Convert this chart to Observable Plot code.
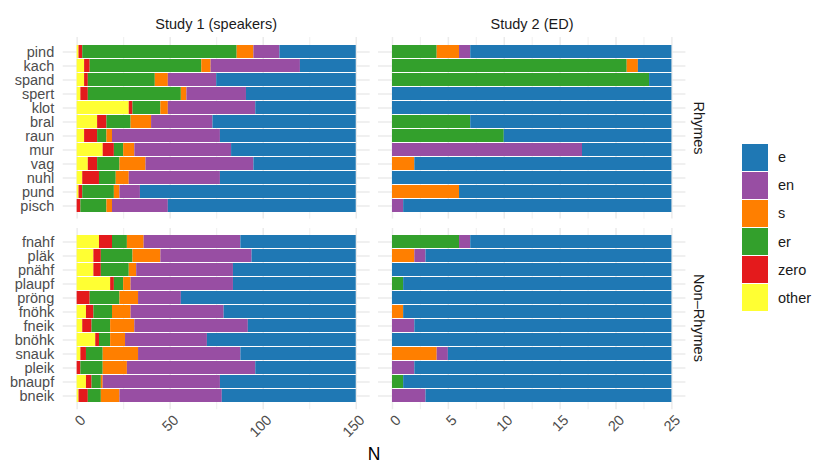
<!DOCTYPE html>
<html><head><meta charset="utf-8">
<script src="https://cdn.jsdelivr.net/npm/d3@7"></script>
<script src="https://cdn.jsdelivr.net/npm/@observablehq/plot@0.6"></script>
<style>
body{margin:0;background:#fff;}
#chart{position:relative;width:830px;height:475px;font-family:"Liberation Sans",Arial,sans-serif;overflow:hidden;background:#fff;}
#chart svg{position:absolute;overflow:visible;}
.lab{position:absolute;white-space:nowrap;line-height:1;}
</style></head><body><div id="chart"></div>
<script>
// categories
const rhymes = ["pind","kach","spand","spert","klot","bral","raun","mur","vag","nuhl","pund","pisch"];
const nonRhymes = ["fnahf","pläk","pnähf","plaupf","pröng","fnöhk","fneik","bnöhk","snauk","pleik","bnaupf","bneik"];
const stackOrder = ["other","zero","er","s","en","e"];
const legendOrder = ["e","en","s","er","zero","other"];
const palette = ["#1f78b4","#984ea3","#ff7f00","#33a02c","#e41a1c","#ffff33"];
const rowLabels = ["Rhymes","Non\u2013Rhymes"];
const colLabels = ["Study 1 (speakers)","Study 2 (ED)"];
// tick labels
const s1Ticks = [0,50,100,150];
const s1Minor = [25,75,125];
const s2Ticks = [0,5,10,15,20,25];
const s2Minor = [2.5,7.5,12.5,17.5,22.5];
// counts per word, in stack order: other, zero, er, s, en, e
const s1Rhymes = [
  [1,2,83,9,14,41],
  [4,3,60,5,48,30],
  [4,2,36,7,26,75],
  [2,4,50,3,32,59],
  [28,2,15,4,47,54],
  [11,5,13,11,33,77],
  [4,7,5,3,58,73],
  [14,6,5,6,52,67],
  [6,5,12,14,58,55],
  [3,9,9,7,49,73],
  [1,2,17,3,11,116],
  [0,2,14,3,30,101]
];
const s1NonRhymes = [
  [12,7,8,9,52,62],
  [9,4,17,15,49,56],
  [9,4,15,4,52,66],
  [18,2,5,4,55,66],
  [0,7,16,10,23,94],
  [5,4,10,10,50,71],
  [3,5,10,13,61,58],
  [10,2,6,8,44,80],
  [2,3,9,19,55,62],
  [0,2,12,13,69,54],
  [5,3,5,1,63,73],
  [1,5,7,10,55,72]
];
const s2Rhymes = [
  [0,0,4,2,1,18],
  [0,0,21,1,0,3],
  [0,0,23,0,0,2],
  [0,0,0,0,0,25],
  [0,0,0,0,0,25],
  [0,0,7,0,0,18],
  [0,0,10,0,0,15],
  [0,0,0,0,17,8],
  [0,0,0,2,0,23],
  [0,0,0,0,0,25],
  [0,0,0,6,0,19],
  [0,0,0,0,1,24]
];
const s2NonRhymes = [
  [0,0,6,0,1,18],
  [0,0,0,2,1,22],
  [0,0,0,0,0,25],
  [0,0,1,0,0,24],
  [0,0,0,0,0,25],
  [0,0,0,1,0,24],
  [0,0,0,0,2,23],
  [0,0,0,0,0,25],
  [0,0,0,4,1,20],
  [0,0,0,0,2,23],
  [0,0,1,0,0,24],
  [0,0,0,0,3,22]
];

const chart = document.getElementById("chart");
const FONT = '"Liberation Sans",Arial,sans-serif';

function panel({words, counts, xmax, ticks, minor, left, top, width, height, mL, mB}) {
  const data = [];
  words.forEach((w, i) => stackOrder.forEach((r, j) => {
    if (counts[i][j] > 0) data.push({word: w, resp: r, n: counts[i][j]});
  }));
  const pad = xmax * 0.05;
  const marks = [
    Plot.gridX({ticks: minor, stroke: "#ebebeb", strokeOpacity: 1, strokeWidth: 0.8}),
    Plot.gridX({ticks: ticks, stroke: "#ebebeb", strokeOpacity: 1, strokeWidth: 1.5}),
    Plot.gridY({stroke: "#ebebeb", strokeOpacity: 1, strokeWidth: 1.5}),
    Plot.barX(data, {x: "n", y: "word", fill: "resp"})
  ];
  if (mL > 0) marks.push(Plot.axisY({tickSize: 0, tickPadding: 9, fontSize: 14.5, fill: "#4d4d4d", label: null}));
  if (mB > 0) marks.push(Plot.axisX({ticks: ticks, tickSize: 0, tickRotate: -45, tickPadding: 8, dx: 6, fontSize: 14.5, fill: "#4d4d4d", label: null}));
  const svg = Plot.plot({
    width: width + mL, height: height + mB,
    marginLeft: mL, marginRight: 0, marginTop: 0, marginBottom: mB,
    x: {domain: [-pad, xmax + pad], axis: null},
    y: {domain: words, paddingInner: 0.1, paddingOuter: 0.15, axis: null},
    color: {domain: legendOrder, range: palette},
    style: {fontFamily: FONT, background: "transparent", overflow: "visible"},
    marks
  });
  svg.style.left = (left - mL) + "px";
  svg.style.top = top + "px";
  chart.appendChild(svg);
}

const P = {x1: 62.7, w1: 307, x2: 378.3, w2: 307.4, y1: 37.4, h1: 181.6, y2: 227.8, h2: 181.2};
panel({words: rhymes, counts: s1Rhymes, xmax: 150, ticks: s1Ticks, minor: s1Minor, left: P.x1, top: P.y1, width: P.w1, height: P.h1, mL: P.x1, mB: 0});
panel({words: nonRhymes, counts: s1NonRhymes, xmax: 150, ticks: s1Ticks, minor: s1Minor, left: P.x1, top: P.y2, width: P.w1, height: P.h2, mL: P.x1, mB: 50});
panel({words: rhymes, counts: s2Rhymes, xmax: 25, ticks: s2Ticks, minor: s2Minor, left: P.x2, top: P.y1, width: P.w2, height: P.h1, mL: 0, mB: 0});
panel({words: nonRhymes, counts: s2NonRhymes, xmax: 25, ticks: s2Ticks, minor: s2Minor, left: P.x2, top: P.y2, width: P.w2, height: P.h2, mL: 0, mB: 50});

function label(text, x, y, opts = {}) {
  const d = document.createElement("div");
  d.className = "lab";
  d.textContent = text;
  d.style.left = x + "px";
  d.style.top = y + "px";
  d.style.fontSize = (opts.size || 14.5) + "px";
  d.style.color = opts.color || "#1a1a1a";
  d.style.transform = "translate(-50%,-50%)" + (opts.rotate ? ` rotate(${opts.rotate}deg)` : "");
  chart.appendChild(d);
  return d;
}
label(colLabels[0], P.x1 + P.w1 / 2, 24);
label(colLabels[1], P.x2 + P.w2 / 2, 24);
label(rowLabels[0], 699, P.y1 + P.h1 / 2, {rotate: 90});
label(rowLabels[1], 699, P.y2 + P.h2 / 2, {rotate: 90});
label("N", (P.x1 + P.x2 + P.w2) / 2, 455, {size: 17.5, color: "#000"});

// legend
legendOrder.forEach((r, i) => {
  const top = 143.3 + i * 28.07;
  const box = document.createElement("div");
  box.style.cssText = `position:absolute;left:742px;top:${top + 0.5}px;width:26.3px;height:27px;background:${palette[i]};`;
  chart.appendChild(box);
  const t = document.createElement("div");
  t.className = "lab";
  t.textContent = r;
  t.style.cssText += `left:778px;top:${top + 14}px;font-size:14.5px;color:#1a1a1a;transform:translate(0,-50%);`;
  chart.appendChild(t);
});
</script></body></html>
